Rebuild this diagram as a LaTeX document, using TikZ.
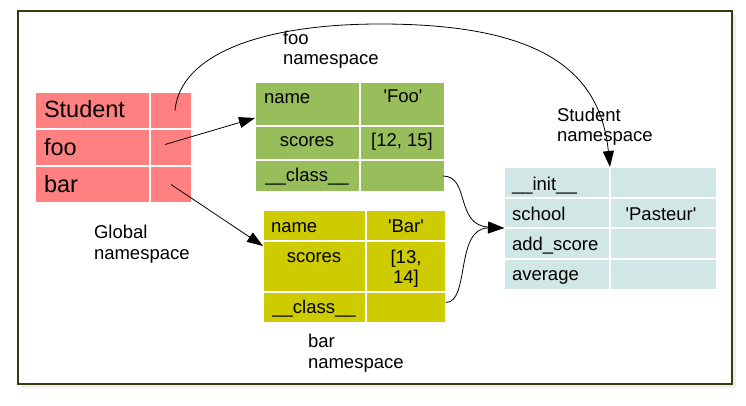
\documentclass[tikz,border=0pt]{standalone}
\usepackage{fontspec}
\newfontfamily\lib{Liberation Sans}
\usetikzlibrary{arrows.meta}
\definecolor{cred}{HTML}{FF8080}
\definecolor{cgreen}{HTML}{98BE5C}
\definecolor{cyell}{HTML}{CECC00}
\definecolor{cblue}{HTML}{D0E7E5}
\definecolor{cframe}{HTML}{3A3A10}
\definecolor{cshadow}{HTML}{EDEDED}
\begin{document}
\begin{tikzpicture}[x=1pt,y=-1pt,
  cell/.style={draw=white, line width=1.2pt, inner sep=0pt, outer sep=0pt, anchor=north west},
  rc/.style={cell, fill=cred},
  gc/.style={cell, fill=cgreen},
  yc/.style={cell, fill=cyell},
  bc/.style={cell, fill=cblue},
  txt/.style={inner sep=0pt, outer sep=0pt, font=\lib\fontsize{18.5}{20}\selectfont, text=black},
  big/.style={inner sep=0pt, outer sep=0pt, font=\lib\fontsize{23.5}{26}\selectfont, text=black, anchor=base west},
  lw/.style={txt, anchor=base west},
  lc/.style={txt, anchor=base},
  conn/.style={draw=black, line width=0.8pt, -{Triangle[length=16pt,width=11pt]}},
]
% background and frame
\fill[white] (0,0) rectangle (746,406);
\useasboundingbox (0,0) rectangle (746,406);
\fill[cshadow] (22,15) rectangle (736,388);
\draw[cframe, fill=white, line width=1.3pt] (18,11) rectangle (732,384);

% red table (global namespace)
\node[rc, minimum width=115pt, minimum height=37pt] (stuK) at (35,92) {};
\node[rc, minimum width=42pt, minimum height=37pt] (stuV) at (150,92) {};
\node[rc, minimum width=115pt, minimum height=37pt] (fooK) at (35,129) {};
\node[rc, minimum width=42pt, minimum height=37pt] (fooV) at (150,129) {};
\node[rc, minimum width=115pt, minimum height=37pt] (barK) at (35,166) {};
\node[rc, minimum width=42pt, minimum height=37pt] (barV) at (150,166) {};
\node[big] (tStu) at (44,118) {Student};
\node[big] (tFoo) at (44,155.5) {foo};
\node[big] (tBar) at (44,193) {bar};

% green table (foo namespace)
\node[gc, minimum width=105pt, minimum height=44pt] (gNameK) at (255,82) {};
\node[gc, minimum width=85pt, minimum height=44pt] (gNameV) at (360,82) {};
\node[gc, minimum width=105pt, minimum height=34pt] (gScK) at (255,126) {};
\node[gc, minimum width=85pt, minimum height=34pt] (gScV) at (360,126) {};
\node[gc, minimum width=105pt, minimum height=32pt] (gClsK) at (255,160) {};
\node[gc, minimum width=85pt, minimum height=32pt] (gClsV) at (360,160) {};
\node[lw] (tGName) at (264,104) {name};
\node[lc] (tGFoo) at (403,103) {'Foo'};
\node[lc] (tGSc) at (307,147) {scores};
\node[lc] (tGScV) at (402,147) {[12, 15]};
\node[lc] (tGCls) at (307,182) {\_\_class\_\_};

% yellow table (bar namespace)
\node[yc, minimum width=103pt, minimum height=31pt] (yNameK) at (263,210) {};
\node[yc, minimum width=80pt, minimum height=31pt] (yNameV) at (366,210) {};
\node[yc, minimum width=103pt, minimum height=51pt] (yScK) at (263,241) {};
\node[yc, minimum width=80pt, minimum height=51pt] (yScV) at (366,241) {};
\node[yc, minimum width=103pt, minimum height=31pt] (yClsK) at (263,292) {};
\node[yc, minimum width=80pt, minimum height=31pt] (yClsV) at (366,292) {};
\node[lw] (tYName) at (271,232) {name};
\node[lc] (tYBar) at (406,232) {'Bar'};
\node[lc] (tYSc) at (314,262) {scores};
\node[lc] (tYSc1) at (406,263) {[13,};
\node[lc] (tYSc2) at (406,283) {14]};
\node[lc] (tYCls) at (314,313) {\_\_class\_\_};

% blue table (Student namespace)
\node[bc, minimum width=106pt, minimum height=31pt] (initK) at (504,167) {};
\node[bc, minimum width=107pt, minimum height=31pt] (initV) at (610,167) {};
\node[bc, minimum width=106pt, minimum height=30pt] (schK) at (504,198) {};
\node[bc, minimum width=107pt, minimum height=30pt] (schV) at (610,198) {};
\node[bc, minimum width=106pt, minimum height=31pt] (addK) at (504,228) {};
\node[bc, minimum width=107pt, minimum height=31pt] (addV) at (610,228) {};
\node[bc, minimum width=106pt, minimum height=31pt] (avgK) at (504,259) {};
\node[bc, minimum width=107pt, minimum height=31pt] (avgV) at (610,259) {};
\node[lw] (tInit) at (512,190) {\_\_init\_\_};
\node[lw] (tSch) at (512,220) {school};
\node[lc] (tPas) at (661,220) {'Pasteur'};
\node[lw] (tAdd) at (512,250) {add\_score};
\node[lw] (tAvg) at (512,280) {average};

% labels
\node[lw] (lFoo1) at (283,45) {foo};
\node[lw] (lFoo2) at (283,65) {namespace};
\node[lw] (lStu1) at (557,122) {Student};
\node[lw] (lStu2) at (557,142) {namespace};
\node[lw] (lGl1) at (94,238) {Global};
\node[lw] (lGl2) at (94,259) {namespace};
\node[lw] (lBar1) at (308,347) {bar};
\node[lw] (lBar2) at (308,368) {namespace};

% connectors
\coordinate (arcTop) at (380,24);
\draw[conn] ([xshift=4pt]stuV.center) .. controls (180,55) and (260,24) .. (arcTop)
  .. controls (540,24) and (600,70) .. (initV.north west);
\draw[conn] ([shift={(-6pt,3pt)}]fooV.center) -- ([yshift=8pt]gNameK.south west);
\draw[conn] (barV.center) -- ([yshift=-5pt]yScK.north west);
\draw[conn] ([xshift=-2pt]gClsV.east) .. controls (470,176) and (455,225) .. (schK.south west);
\draw[conn] ([yshift=5pt]yClsV.east) .. controls (470,302) and (455,228) .. (schK.south west);
\end{tikzpicture}
\end{document}
